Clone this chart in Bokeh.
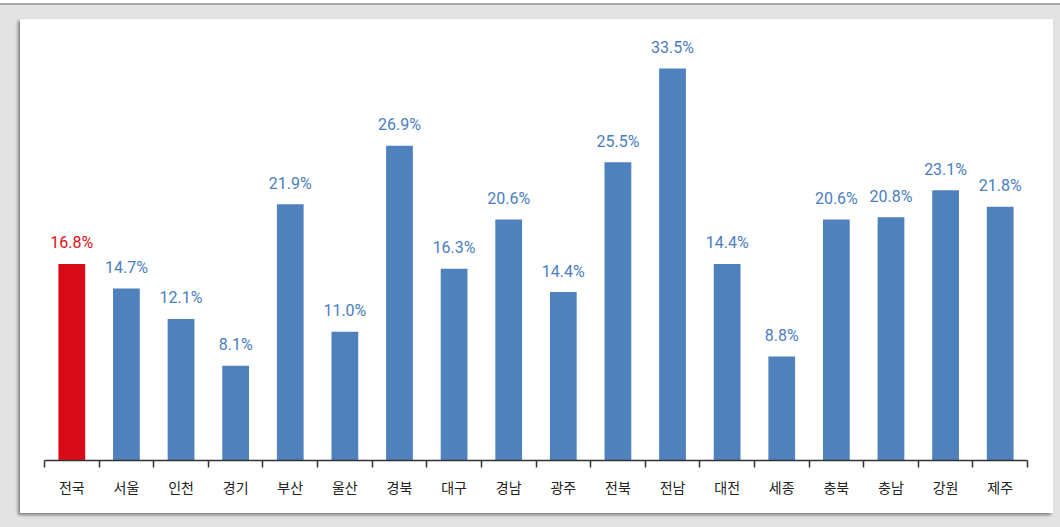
from bokeh.plotting import figure
from bokeh.models import Range1d, LinearAxis, FixedTicker, ColumnDataSource
from bokeh.layouts import column
from bokeh.embed import file_html
from bokeh.resources import INLINE
from bokeh.core.properties import value

regions = ["전국", "서울", "인천", "경기", "부산", "울산", "경북", "대구", "경남",
           "광주", "전북", "전남", "대전", "세종", "충북", "충남", "강원", "제주"]
# bar heights as drawn in the picture (%)
bar_heights = [16.8, 14.7, 12.1, 8.1, 21.9, 11.0, 26.9, 16.4, 20.6,
               14.4, 25.5, 33.5, 16.8, 8.9, 20.6, 20.8, 23.1, 21.7]
# value labels as printed
value_labels = ["16.8%", "14.7%", "12.1%", "8.1%", "21.9%", "11.0%", "26.9%", "16.3%", "20.6%",
                "14.4%", "25.5%", "33.5%", "14.4%", "8.8%", "20.6%", "20.8%", "23.1%", "21.8%"]

BLUE = "#4f81bd"
RED = "#d90b18"
LABEL_BLUE = "#4a7ebf"
LABEL_RED = "#e01018"

n = len(regions)
centers = [i + 0.5 for i in range(n)]
bar_colors = [RED if r == "전국" else BLUE for r in regions]
label_colors = [LABEL_RED if r == "전국" else LABEL_BLUE for r in regions]

src = ColumnDataSource(dict(x=centers, top=bar_heights, lab=value_labels,
                            bc=bar_colors, lc=label_colors))

p = figure(width=1033, height=494, output_backend="svg", toolbar_location=None,
           x_range=Range1d(0, n), y_range=Range1d(0, 36.84),
           min_border_left=24, min_border_right=26, min_border_top=10, min_border_bottom=53,
           x_axis_location=None, y_axis_location=None,
           margin=(14, 7, 14, 20),
           styles={"box-shadow": "-2px 2px 3px rgba(0,0,0,0.45)",
                   "background-color": "white"})
p.background_fill_color = None
p.border_fill_color = None
p.outline_line_color = None
p.xgrid.visible = False
p.ygrid.visible = False

p.vbar(x="x", top="top", width=0.49, fill_color="bc", line_color=None, source=src)
p.text(x="x", y="top", text="lab", text_color="lc", text_align="center",
       text_baseline="alphabetic", y_offset=-21, text_font=value("Roboto"),
       text_font_size="16px", source=src)

# axis with ticks at category boundaries
tick_axis = LinearAxis(ticker=FixedTicker(ticks=list(range(n + 1))))
tick_axis.axis_line_color = "#333333"
tick_axis.axis_line_width = 1.5
tick_axis.major_tick_line_color = "#333333"
tick_axis.major_tick_line_width = 1.5
tick_axis.major_tick_in = 0
tick_axis.major_tick_out = 7
tick_axis.minor_tick_line_color = None
tick_axis.major_label_text_font_size = "0px"
tick_axis.major_label_standoff = 0
tick_axis.major_label_overrides = {i: "" for i in range(n + 1)}
p.add_layout(tick_axis, "below")

# axis carrying category names at bar centers
label_axis = LinearAxis(ticker=FixedTicker(ticks=centers))
label_axis.axis_line_color = None
label_axis.major_tick_line_color = None
label_axis.minor_tick_line_color = None
label_axis.major_label_overrides = {c: r for c, r in zip(centers, regions)}
label_axis.major_label_text_font = "Noto Sans CJK KR"
label_axis.major_label_text_font_size = "14px"
label_axis.major_label_text_color = "#222222"
label_axis.major_label_standoff = 3
p.add_layout(label_axis, "below")

layout = column(p, styles={"background-color": "#e3e3e3",
                           "border-top": "2px solid #a8a8a8",
                           "margin-top": "3px"})

open("out.html", "w").write(file_html(layout, INLINE))
